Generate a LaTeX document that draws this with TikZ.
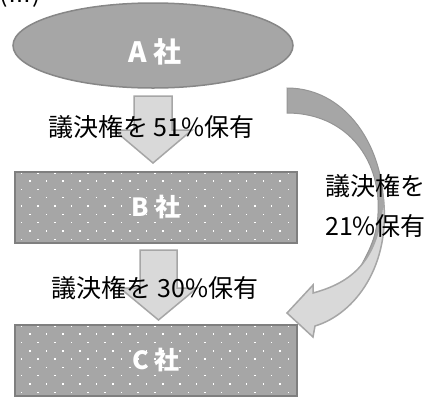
\documentclass[tikz,border=0pt]{standalone}
\usepackage{fontspec}
\setmainfont{Noto Sans CJK JP}
\usetikzlibrary{shapes.geometric}

\definecolor{boxgray}{HTML}{A6A6A6}
\definecolor{edgegray}{HTML}{7F7F7F}
\definecolor{arrowgray}{HTML}{D9D9D9}

\tikzset{
  company/.style={fill=boxgray, text=white, inner sep=0pt,
    font=\bfseries\fontsize{25}{30}\selectfont},
  boxline/.style={draw=edgegray, line width=2pt},
  blockarrow/.style={fill=arrowgray, draw=boxgray, line width=1.5pt},
  vote/.style={inner sep=0pt, font=\fontsize{25}{40}\selectfont}
}

% staggered white dots inside a box node
\newcommand\dotgrid[1]{%
  \begin{scope}[shift={(#1.north west)}]
    \clip (0,0) rectangle (282,71);
    \foreach \r in {0,...,8}
      \foreach \c in {-1,...,17}
        \fill[white] ({6+16.67*\c+8.33*mod(\r,2)},{0.3+8.33*\r}) rectangle ++(1.4,1.4);
  \end{scope}}

\begin{document}
\begin{tikzpicture}[x=1pt,y=-1pt]
\useasboundingbox (0,0) rectangle (443,397);

% heading, cut off at the top
\node[vote, anchor=base west] (head) at (-1,2) {(Ⅲ)};

% A
\node[company, ellipse, draw=edgegray!80!boxgray, line width=1.5pt,
  minimum width=280, minimum height=85] (ca) at (153,45.5) {};
\node[company, fill=none, font=\bfseries\fontsize{28}{30}\selectfont] (na) at (155,52) {A 社};

% B and C
\node[company, minimum width=282, minimum height=71] (cb) at (156,207.5) {B 社};
\dotgrid{cb}
\draw[boxline] (cb.north west) rectangle (cb.south east);

\node[company, minimum width=282, minimum height=71] (cc) at (156,360.5) {C 社};
\dotgrid{cc}
\draw[boxline] (cc.north west) rectangle (cc.south east);

% straight arrows
\draw[blockarrow] (134,96) -- (172,96) -- (172,130) -- (192,130) -- (153,163)
  -- (114,130) -- (134,130) -- cycle;
\draw[blockarrow] (140,250) -- (177,250) -- (177,288) -- (197,288) -- (158.5,320)
  -- (120,288) -- (140,288) -- cycle;

% curved arrow, back side then front side
\draw[fill=boxgray, draw=boxgray!90!black, line width=1pt]
  (287,88) .. controls (350,88) and (390,155) .. (383,225)
  .. controls (380,245) and (372,255) .. (363,262)
  .. controls (375,240) and (379,225) .. (378,200)
  .. controls (375,150) and (340,113) .. (287,113) -- cycle;
\draw[blockarrow]
  (383,195) .. controls (392,265) and (355,314) .. (315,326)
  -- (313,337) -- (287,313) -- (313,285) -- (313,293)
  .. controls (350,283) and (381,262) .. (383,195) -- cycle;

% labels
\node[vote] (v1) at (151.5,127) {議決権を 51\%保有};
\node[vote] (v2) at (155,288) {議決権を 30\%保有};
\node[vote, align=left, anchor=west] (v3) at (325,206) {議決権を\\21\%保有};
\end{tikzpicture}
\end{document}
